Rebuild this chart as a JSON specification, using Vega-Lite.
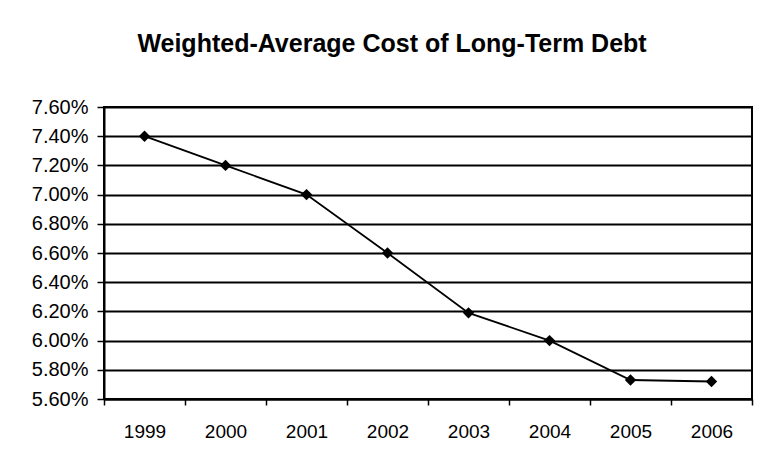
{
  "$schema": "https://vega.github.io/schema/vega-lite/v6.json",
  "width": 648,
  "height": 292,
  "autosize": {"type": "none"},
  "padding": {"left": 104, "top": 107, "right": 7, "bottom": 62},
  "background": "white",
  "title": {
    "text": "Weighted-Average Cost of Long-Term Debt",
    "anchor": "middle",
    "frame": "bounds",
    "font": "Liberation Sans",
    "fontSize": 25,
    "fontWeight": "bold",
    "color": "black",
    "offset": 40
  },
  "data": {
    "values": [
      {"year": "1999", "cost": 0.0740},
      {"year": "2000", "cost": 0.0720},
      {"year": "2001", "cost": 0.0700},
      {"year": "2002", "cost": 0.0660},
      {"year": "2003", "cost": 0.0619},
      {"year": "2004", "cost": 0.0600},
      {"year": "2005", "cost": 0.0573},
      {"year": "2006", "cost": 0.0572}
    ]
  },
  "config": {
    "view": {"stroke": "black", "strokeWidth": 2},
    "axis": {
      "labelFont": "Liberation Sans",
      "labelColor": "black",
      "domainColor": "black",
      "domainWidth": 2,
      "tickColor": "black",
      "tickWidth": 1.5,
      "title": null
    }
  },
  "encoding": {
    "x": {
      "field": "year",
      "type": "ordinal",
      "scale": {"type": "band", "paddingInner": 0, "paddingOuter": 0},
      "axis": {"labelAngle": 0, "labelFontSize": 19, "tickBand": "extent", "tickSize": 6, "labelPadding": 17, "grid": false}
    },
    "y": {
      "field": "cost",
      "type": "quantitative",
      "scale": {"domain": [0.056, 0.076], "nice": false, "zero": false},
      "axis": {
        "values": [0.056, 0.058, 0.060, 0.062, 0.064, 0.066, 0.068, 0.070, 0.072, 0.074, 0.076],
        "format": ".2%",
        "labelFontSize": 20,
        "tickSize": 7,
        "labelPadding": 9,
        "grid": true,
        "gridColor": "black",
        "gridWidth": 1.8,
        "gridOpacity": 1
      }
    }
  },
  "layer": [
    {"mark": {"type": "line", "color": "black", "strokeWidth": 1.8}},
    {"mark": {"type": "point", "shape": "diamond", "filled": true, "color": "black", "opacity": 1, "size": 130}}
  ]
}
